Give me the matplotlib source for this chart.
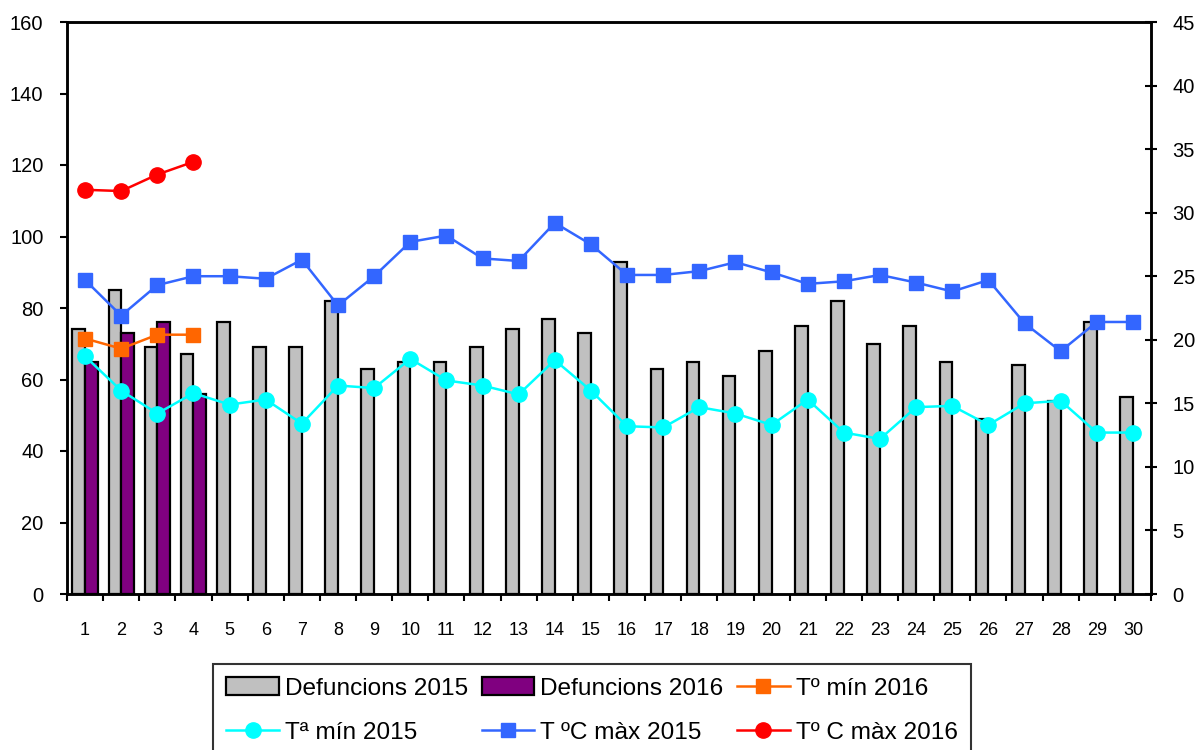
import matplotlib
matplotlib.use("Agg")
import matplotlib.pyplot as plt
import numpy as np

plt.rcParams['font.family'] = ['Liberation Sans', 'DejaVu Sans']

days = list(range(1, 31))
day_labels = [str(d) for d in days]

def_2015 = [74, 85, 69, 67, 76, 69, 69, 82, 63, 65, 65, 69, 74, 77, 73,
            93, 63, 65, 61, 68, 75, 82, 70, 75, 65, 49, 64, 54, 76, 55]
def_2016 = [65, 73, 76, 56]

tmin_2015 = [18.7, 16.0, 14.2, 15.8, 14.9, 15.3, 13.4, 16.4, 16.2, 18.5,
             16.8, 16.4, 15.7, 18.4, 16.0, 13.2, 13.1, 14.7, 14.2, 13.3,
             15.3, 12.7, 12.2, 14.7, 14.8, 13.3, 15.0, 15.2, 12.7, 12.7]
tmax_2015 = [24.7, 21.9, 24.3, 25.0, 25.0, 24.8, 26.3, 22.7, 25.0, 27.7,
             28.2, 26.4, 26.2, 29.2, 27.5, 25.1, 25.1, 25.4, 26.1, 25.3,
             24.4, 24.6, 25.1, 24.5, 23.8, 24.7, 21.3, 19.1, 21.4, 21.4]
tmin_2016 = [20.1, 19.3, 20.4, 20.4]
tmax_2016 = [31.8, 31.7, 33.0, 34.0]

left_ticks = [0, 20, 40, 60, 80, 100, 120, 140, 160]
right_ticks = [0, 5, 10, 15, 20, 25, 30, 35, 40, 45]

fig = plt.figure(figsize=(12.01, 7.50), dpi=100)
ax = fig.add_axes([67/1201, 1-594/750, (1151-67)/1201, (594-22)/750])

x = np.arange(1, 31)
w = 0.35
x16 = np.arange(1, len(def_2016) + 1)
b1 = ax.bar(x - w/2, def_2015, width=w, color='#C0C0C0', edgecolor='black', linewidth=1.6, zorder=2)
b2 = ax.bar(x16 + w/2, def_2016, width=w, color='#800080', edgecolor='black', linewidth=1.6, zorder=2)

ax.set_xlim(0.5, 30.5)
ax.set_ylim(0, 160)
ax.set_yticks(left_ticks)
ax.set_yticklabels([str(t) for t in left_ticks])
ax.set_xticks(x)
ax.set_xticklabels(day_labels)
ax.set_xticks(np.arange(0.5, 31, 1), minor=True)
ax.tick_params(axis='x', which='major', length=0, pad=20, labelsize=13)
ax.tick_params(axis='x', which='minor', length=5, width=1.5, direction='out')
ax.tick_params(axis='y', which='major', length=5, width=1.5, direction='out', pad=12, labelsize=14.5)
for s in ax.spines.values():
    s.set_linewidth(1.8)
    s.set_color('black')

ax2 = ax.twinx()
ax2.set_ylim(0, 45)
ax2.set_yticks(right_ticks)
ax2.set_yticklabels([str(t) for t in right_ticks])
ax2.tick_params(axis='y', length=8, width=1.5, direction='inout', pad=11.5, labelsize=14.5)
for s in ax2.spines.values():
    s.set_linewidth(1.8)

l_tmin16, = ax2.plot(x16, tmin_2016, color='#FF6600', marker='s', markersize=10, linewidth=1.8)
l_tmin15, = ax2.plot(x, tmin_2015, color='#00FFFF', marker='o', markersize=11, linewidth=1.8)
l_tmax15, = ax2.plot(x, tmax_2015, color='#3366FF', marker='s', markersize=10, linewidth=1.8)
l_tmax16, = ax2.plot(x16, tmax_2016, color='#FF0000', marker='o', markersize=11, linewidth=1.8)

handles = [b1, l_tmin15, b2, l_tmax15, l_tmin16, l_tmax16]
labels = ['Defuncions 2015', 'Tª mín 2015', 'Defuncions 2016', 'T ºC màx 2015',
          'Tº mín 2016', 'Tº C màx 2016']
leg = fig.legend(handles, labels, ncol=3, loc='upper left',
                 bbox_to_anchor=(213/1201, 1-664/750), borderaxespad=0,
                 fontsize=17.6, frameon=True, fancybox=False, shadow=False,
                 handlelength=2.15, handletextpad=0.25, columnspacing=0.55,
                 labelspacing=0.9, borderpad=0.55)
leg.get_frame().set_edgecolor('black')
leg.get_frame().set_linewidth(1.5)

fig.savefig('out.png', dpi=100)
